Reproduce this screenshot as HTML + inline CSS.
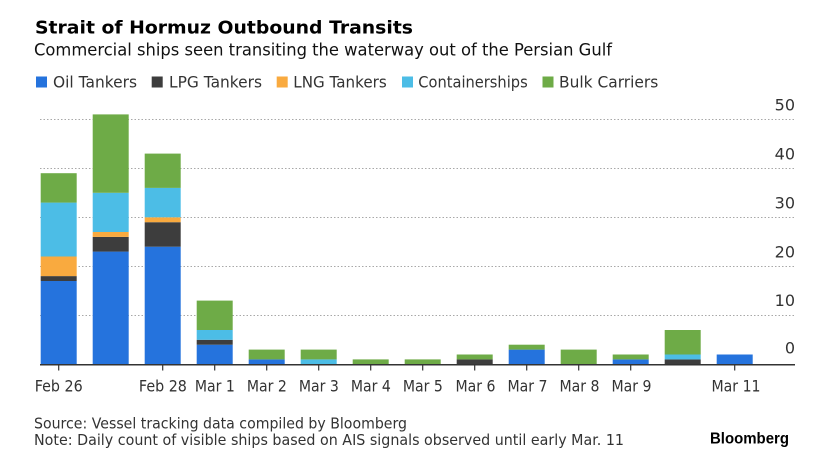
<!DOCTYPE html>
<html>
<head>
<meta charset="utf-8">
<style>
  html,body{margin:0;padding:0;background:#fff;}
  svg{display:block;}
  text{font-family:"DejaVu Sans","Liberation Sans",sans-serif;}
</style>
</head>
<body>
<svg width="821" height="470" viewBox="0 0 821 470" xmlns="http://www.w3.org/2000/svg">
  <rect x="0" y="0" width="821" height="470" fill="#fff"/>

  <!-- Title / subtitle -->
  <text x="35" y="33.5" font-size="18" font-weight="bold" fill="#000" textLength="378" lengthAdjust="spacingAndGlyphs">Strait of Hormuz Outbound Transits</text>
  <text x="34" y="55.3" font-size="17" fill="#111" textLength="578" lengthAdjust="spacingAndGlyphs">Commercial ships seen transiting the waterway out of the Persian Gulf</text>

  <!-- Legend -->
  <rect x="36" y="76.5" width="11" height="11" fill="#2573dd"/>
  <text x="53" y="87.5" font-size="16" fill="#333" textLength="84" lengthAdjust="spacingAndGlyphs">Oil Tankers</text>
  <rect x="151.7" y="76.5" width="11" height="11" fill="#3d3d3d"/>
  <text x="169" y="87.5" font-size="16" fill="#333" textLength="93" lengthAdjust="spacingAndGlyphs">LPG Tankers</text>
  <rect x="276.7" y="76.5" width="11" height="11" fill="#f9aa3f"/>
  <text x="293.3" y="87.5" font-size="16" fill="#333" textLength="93.4" lengthAdjust="spacingAndGlyphs">LNG Tankers</text>
  <rect x="402" y="76.5" width="11" height="11" fill="#4cbde6"/>
  <text x="418.3" y="87.5" font-size="16" fill="#333" textLength="109.4" lengthAdjust="spacingAndGlyphs">Containerships</text>
  <rect x="542.5" y="76.5" width="11" height="11" fill="#6eab47"/>
  <text x="559" y="87.5" font-size="16" fill="#333" textLength="99.3" lengthAdjust="spacingAndGlyphs">Bulk Carriers</text>

  <!-- Gridlines -->
  <g stroke="#a8a8a8" stroke-width="1" stroke-dasharray="1.5 2">
    <line x1="40" y1="119.5" x2="795" y2="119.5"/>
    <line x1="40" y1="168.5" x2="795" y2="168.5"/>
    <line x1="40" y1="217.5" x2="795" y2="217.5"/>
    <line x1="40" y1="266.5" x2="795" y2="266.5"/>
    <line x1="40" y1="315.5" x2="795" y2="315.5"/>
  </g>

  <!-- Y labels -->
  <g font-size="16" fill="#333" text-anchor="end">
    <text x="795" y="110.7">50</text>
    <text x="795" y="159.5">40</text>
    <text x="795" y="208.4">30</text>
    <text x="795" y="257.3">20</text>
    <text x="795" y="306.2">10</text>
    <text x="795" y="353.5">0</text>
  </g>

  <!-- Bars: y(v)=364.3-4.9v -->
  <g>
    <!-- Feb 26: 17,1,4,11,6 -->
    <rect x="40.7" y="281.0" width="36" height="83.3" fill="#2573dd"/>
    <rect x="40.7" y="276.1" width="36" height="4.9" fill="#3d3d3d"/>
    <rect x="40.7" y="256.5" width="36" height="19.6" fill="#f9aa3f"/>
    <rect x="40.7" y="202.6" width="36" height="53.9" fill="#4cbde6"/>
    <rect x="40.7" y="173.2" width="36" height="29.4" fill="#6eab47"/>
    <!-- Feb 27: 23,3,1,8,16 -->
    <rect x="92.7" y="251.6" width="36" height="112.7" fill="#2573dd"/>
    <rect x="92.7" y="236.9" width="36" height="14.7" fill="#3d3d3d"/>
    <rect x="92.7" y="232.0" width="36" height="4.9" fill="#f9aa3f"/>
    <rect x="92.7" y="192.8" width="36" height="39.2" fill="#4cbde6"/>
    <rect x="92.7" y="114.4" width="36" height="78.4" fill="#6eab47"/>
    <!-- Feb 28: 24,5,1,6,7 -->
    <rect x="144.7" y="246.7" width="36" height="117.6" fill="#2573dd"/>
    <rect x="144.7" y="222.2" width="36" height="24.5" fill="#3d3d3d"/>
    <rect x="144.7" y="217.3" width="36" height="4.9" fill="#f9aa3f"/>
    <rect x="144.7" y="187.9" width="36" height="29.4" fill="#4cbde6"/>
    <rect x="144.7" y="153.6" width="36" height="34.3" fill="#6eab47"/>
    <!-- Mar 1: 4,1,0,2,6 -->
    <rect x="196.7" y="344.7" width="36" height="19.6" fill="#2573dd"/>
    <rect x="196.7" y="339.8" width="36" height="4.9" fill="#3d3d3d"/>
    <rect x="196.7" y="330.0" width="36" height="9.8" fill="#4cbde6"/>
    <rect x="196.7" y="300.6" width="36" height="29.4" fill="#6eab47"/>
    <!-- Mar 2: 1,0,0,0,2 -->
    <rect x="248.7" y="359.4" width="36" height="4.9" fill="#2573dd"/>
    <rect x="248.7" y="349.6" width="36" height="9.8" fill="#6eab47"/>
    <!-- Mar 3: 0,0,0,1,2 -->
    <rect x="300.7" y="359.4" width="36" height="4.9" fill="#4cbde6"/>
    <rect x="300.7" y="349.6" width="36" height="9.8" fill="#6eab47"/>
    <!-- Mar 4: green 1 -->
    <rect x="352.7" y="359.4" width="36" height="4.9" fill="#6eab47"/>
    <!-- Mar 5: green 1 -->
    <rect x="404.7" y="359.4" width="36" height="4.9" fill="#6eab47"/>
    <!-- Mar 6: dark 1, green 1 -->
    <rect x="456.7" y="359.4" width="36" height="4.9" fill="#3d3d3d"/>
    <rect x="456.7" y="354.5" width="36" height="4.9" fill="#6eab47"/>
    <!-- Mar 7: blue 3, green 1 -->
    <rect x="508.7" y="349.6" width="36" height="14.7" fill="#2573dd"/>
    <rect x="508.7" y="344.7" width="36" height="4.9" fill="#6eab47"/>
    <!-- Mar 8: green 3 -->
    <rect x="560.7" y="349.6" width="36" height="14.7" fill="#6eab47"/>
    <!-- Mar 9: blue 1, green 1 -->
    <rect x="612.7" y="359.4" width="36" height="4.9" fill="#2573dd"/>
    <rect x="612.7" y="354.5" width="36" height="4.9" fill="#6eab47"/>
    <!-- Mar 10: dark 1, cyan 1, green 5 -->
    <rect x="664.7" y="359.4" width="36" height="4.9" fill="#3d3d3d"/>
    <rect x="664.7" y="354.5" width="36" height="4.9" fill="#4cbde6"/>
    <rect x="664.7" y="330.0" width="36" height="24.5" fill="#6eab47"/>
    <!-- Mar 11: blue 2 -->
    <rect x="716.7" y="354.5" width="36" height="9.8" fill="#2573dd"/>
  </g>

  <!-- Axis line -->
  <line x1="40" y1="364.8" x2="795" y2="364.8" stroke="#333" stroke-width="1.5"/>

  <!-- Ticks -->
  <g stroke="#333" stroke-width="1.2">
    <line x1="58.7" y1="365" x2="58.7" y2="370.5"/>
    <line x1="162.7" y1="365" x2="162.7" y2="370.5"/>
    <line x1="214.7" y1="365" x2="214.7" y2="370.5"/>
    <line x1="266.7" y1="365" x2="266.7" y2="370.5"/>
    <line x1="318.7" y1="365" x2="318.7" y2="370.5"/>
    <line x1="370.7" y1="365" x2="370.7" y2="370.5"/>
    <line x1="422.7" y1="365" x2="422.7" y2="370.5"/>
    <line x1="474.7" y1="365" x2="474.7" y2="370.5"/>
    <line x1="526.7" y1="365" x2="526.7" y2="370.5"/>
    <line x1="578.7" y1="365" x2="578.7" y2="370.5"/>
    <line x1="630.7" y1="365" x2="630.7" y2="370.5"/>
    <line x1="734.7" y1="365" x2="734.7" y2="370.5"/>
  </g>

  <!-- X labels -->
  <g font-size="16" fill="#333" text-anchor="middle">
    <text x="58.7" y="391.7" textLength="48" lengthAdjust="spacingAndGlyphs">Feb 26</text>
    <text x="162.9" y="391.7" textLength="48" lengthAdjust="spacingAndGlyphs">Feb 28</text>
    <text x="214.9" y="391.7" textLength="40" lengthAdjust="spacingAndGlyphs">Mar 1</text>
    <text x="266.9" y="391.7" textLength="40" lengthAdjust="spacingAndGlyphs">Mar 2</text>
    <text x="318.9" y="391.7" textLength="40" lengthAdjust="spacingAndGlyphs">Mar 3</text>
    <text x="370.9" y="391.7" textLength="40" lengthAdjust="spacingAndGlyphs">Mar 4</text>
    <text x="422.9" y="391.7" textLength="40" lengthAdjust="spacingAndGlyphs">Mar 5</text>
    <text x="475.5" y="391.7" textLength="40" lengthAdjust="spacingAndGlyphs">Mar 6</text>
    <text x="527.5" y="391.7" textLength="40" lengthAdjust="spacingAndGlyphs">Mar 7</text>
    <text x="579.5" y="391.7" textLength="40" lengthAdjust="spacingAndGlyphs">Mar 8</text>
    <text x="631.5" y="391.7" textLength="40" lengthAdjust="spacingAndGlyphs">Mar 9</text>
    <text x="736" y="391.7" textLength="49" lengthAdjust="spacingAndGlyphs">Mar 11</text>
  </g>

  <!-- Footer -->
  <text x="34" y="428.3" font-size="15.5" fill="#333" textLength="373" lengthAdjust="spacingAndGlyphs">Source: Vessel tracking data compiled by Bloomberg</text>
  <text x="34" y="445" font-size="15.5" fill="#333" textLength="590" lengthAdjust="spacingAndGlyphs">Note: Daily count of visible ships based on AIS signals observed until early Mar. 11</text>
  <text x="710" y="443.3" font-size="16" font-weight="bold" fill="#000" style="font-family:'Liberation Sans','DejaVu Sans',sans-serif" textLength="79" lengthAdjust="spacingAndGlyphs">Bloomberg</text>
</svg>
</body>
</html>
